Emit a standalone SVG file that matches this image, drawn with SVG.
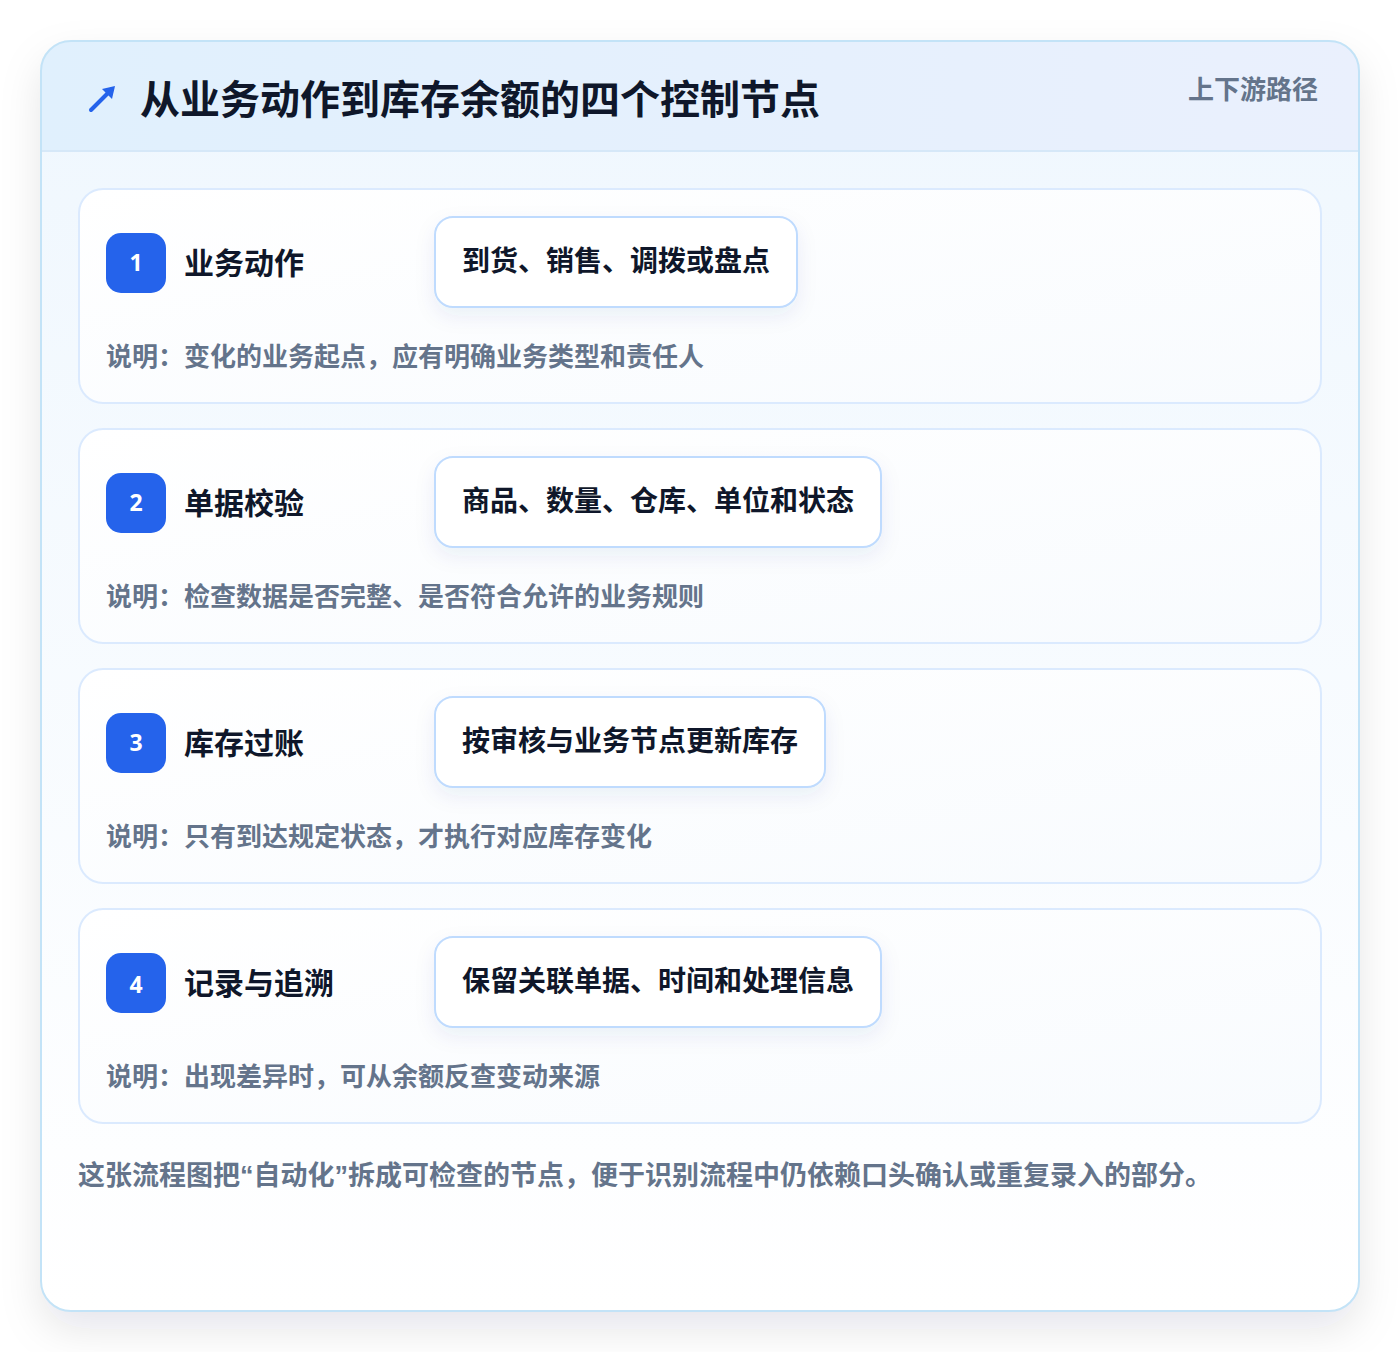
<svg xmlns="http://www.w3.org/2000/svg" width="1400" height="1352" viewBox="0 0 1400 1352">
<defs>
<style>
.t{font-family:"Noto Sans CJK SC","Noto Sans",sans-serif;font-weight:700}
.title{font-size:40px;fill:#0f172a}
.tag{font-size:26px;fill:#64748b}
.step{fill:url(#cardG);stroke:#dbeafe;stroke-width:2}
.badge{fill:#2563eb}
.num{font-family:"Noto Sans","DejaVu Sans",sans-serif;font-weight:700;font-size:23px;fill:#ffffff}
.name{font-size:30px;fill:#0f172a}
.pill{fill:#ffffff;stroke:#bfdbfe;stroke-width:2}
.pt{font-size:28px;fill:#0f172a}
.desc{font-size:26px;fill:#64748b}
.foot{font-size:27px;fill:#64748b}
.q{font-family:"Liberation Sans",sans-serif}
</style>
<linearGradient id="headG" x1="0" y1="0" x2="1" y2="0">
<stop offset="0" stop-color="#e0f0fd"/>
<stop offset="1" stop-color="#eaf0fd"/>
</linearGradient>
<linearGradient id="bodyG" x1="0" y1="0" x2="0" y2="1">
<stop offset="0" stop-color="#eff7fe"/>
<stop offset="1" stop-color="#ffffff"/>
</linearGradient>
<linearGradient id="cardG" x1="0" y1="0" x2="1" y2="1">
<stop offset="0" stop-color="#ffffff"/>
<stop offset="1" stop-color="#f8fbfe"/>
</linearGradient>
<filter id="outerSh" x="-10%" y="-10%" width="120%" height="120%">
<feDropShadow dx="0" dy="18" stdDeviation="20" flood-color="#0f172a" flood-opacity="0.10"/>
</filter>
<filter id="pillSh" x="-20%" y="-40%" width="140%" height="190%">
<feDropShadow dx="0" dy="8" stdDeviation="10" flood-color="#1e3a8a" flood-opacity="0.07"/>
</filter>
<clipPath id="outerClip"><rect x="41" y="41" width="1318" height="1270" rx="30"/></clipPath>
</defs>
<rect width="1400" height="1352" fill="#ffffff"/>
<g id="frame">
<rect x="41" y="41" width="1318" height="1270" rx="30" fill="url(#bodyG)" filter="url(#outerSh)"/>
<g clip-path="url(#outerClip)">
<rect x="41" y="41" width="1318" height="110" fill="url(#headG)"/>
<line x1="41" y1="151" x2="1359" y2="151" stroke="#d6e8f8" stroke-width="2"/>
</g>
<rect x="41" y="41" width="1318" height="1270" rx="30" fill="none" stroke="#c3e3f7" stroke-width="2"/>
</g>
<g id="header">
<g stroke="#2563eb" stroke-width="4" stroke-linecap="round" fill="none">
<line x1="91" y1="110" x2="112" y2="89"/>
</g>
<path d="M115 86 L102 89 L112 99 Z" fill="#2563eb"/>
<text class="t title" x="140" y="114">从业务动作到库存余额的四个控制节点</text>
<text class="t tag" x="1318" y="99" text-anchor="end">上下游路径</text>
</g>
<g id="node1">
<rect class="step" x="79" y="189" width="1242" height="214" rx="24"/>
<rect class="badge" x="106" y="233" width="60" height="60" rx="15"/>
<text class="num" x="136" y="271" text-anchor="middle">1</text>
<text class="t name" x="184" y="274">业务动作</text>
<rect class="pill" x="435" y="217" width="362" height="90" rx="18" filter="url(#pillSh)"/>
<text class="t pt" x="462" y="271">到货、销售、调拨或盘点</text>
<text class="t desc" x="106" y="366">说明：变化的业务起点，应有明确业务类型和责任人</text>
</g>
<g id="node2">
<rect class="step" x="79" y="429" width="1242" height="214" rx="24"/>
<rect class="badge" x="106" y="473" width="60" height="60" rx="15"/>
<text class="num" x="136" y="511" text-anchor="middle">2</text>
<text class="t name" x="184" y="514">单据校验</text>
<rect class="pill" x="435" y="457" width="446" height="90" rx="18" filter="url(#pillSh)"/>
<text class="t pt" x="462" y="511">商品、数量、仓库、单位和状态</text>
<text class="t desc" x="106" y="606">说明：检查数据是否完整、是否符合允许的业务规则</text>
</g>
<g id="node3">
<rect class="step" x="79" y="669" width="1242" height="214" rx="24"/>
<rect class="badge" x="106" y="713" width="60" height="60" rx="15"/>
<text class="num" x="136" y="751" text-anchor="middle">3</text>
<text class="t name" x="184" y="754">库存过账</text>
<rect class="pill" x="435" y="697" width="390" height="90" rx="18" filter="url(#pillSh)"/>
<text class="t pt" x="462" y="751">按审核与业务节点更新库存</text>
<text class="t desc" x="106" y="846">说明：只有到达规定状态，才执行对应库存变化</text>
</g>
<g id="node4">
<rect class="step" x="79" y="909" width="1242" height="214" rx="24"/>
<rect class="badge" x="106" y="953" width="60" height="60" rx="15"/>
<text class="num" x="136" y="993" text-anchor="middle">4</text>
<text class="t name" x="184" y="994">记录与追溯</text>
<rect class="pill" x="435" y="937" width="446" height="90" rx="18" filter="url(#pillSh)"/>
<text class="t pt" x="462" y="991">保留关联单据、时间和处理信息</text>
<text class="t desc" x="106" y="1086">说明：出现差异时，可从余额反查变动来源</text>
</g>
<g id="connectors"></g>
<g id="footer">
<text class="t foot" x="78" y="1185">这张流程图把<tspan class="q">“</tspan>自动化<tspan class="q">”</tspan>拆成可检查的节点，便于识别流程中仍依赖口头确认或重复录入的部分。</text>
</g>
</svg>
